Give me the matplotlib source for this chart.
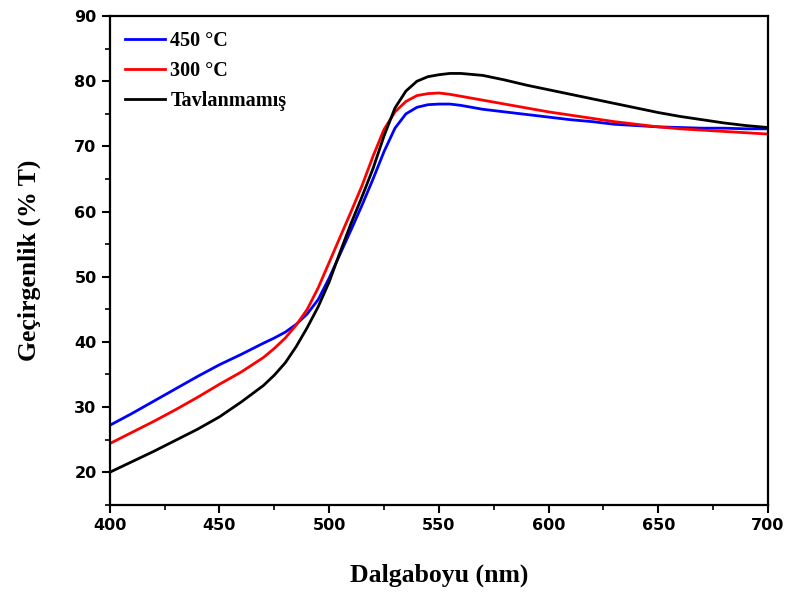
import matplotlib
matplotlib.use('Agg')
import matplotlib.pyplot as plt
from matplotlib.ticker import MultipleLocator

wavelength = [400, 410, 420, 430, 440, 450, 460, 470, 475, 480, 485, 490, 495,
              500, 505, 510, 515, 520, 525, 530, 535, 540, 545, 550, 555, 560,
              570, 580, 590, 600, 610, 620, 630, 640, 650, 660, 670, 680, 690, 700]

t_450 = [27.2, 29.0, 30.9, 32.8, 34.7, 36.5, 38.1, 39.8, 40.6, 41.5, 42.7, 44.3, 46.5,
         49.8, 53.5, 57.2, 61.0, 65.0, 69.2, 72.8, 75.0, 76.0, 76.4, 76.5, 76.5, 76.3,
         75.7, 75.3, 74.9, 74.5, 74.1, 73.8, 73.4, 73.2, 73.0, 72.9, 72.8, 72.8, 72.7, 72.7]

t_300 = [24.4, 26.1, 27.8, 29.6, 31.5, 33.5, 35.4, 37.6, 39.0, 40.6, 42.6, 45.0, 48.3,
         52.2, 56.1, 60.0, 64.0, 68.5, 72.6, 75.3, 76.9, 77.8, 78.1, 78.2, 78.0, 77.7,
         77.1, 76.5, 75.9, 75.3, 74.8, 74.3, 73.8, 73.4, 73.0, 72.7, 72.5, 72.3, 72.1, 71.9]

t_raw = [20.0, 21.6, 23.2, 24.9, 26.6, 28.5, 30.8, 33.3, 34.9, 36.8, 39.3, 42.2, 45.4,
         49.2, 53.8, 58.2, 62.3, 66.6, 71.6, 75.9, 78.5, 80.0, 80.7, 81.0, 81.2, 81.2,
         80.9, 80.2, 79.4, 78.7, 78.0, 77.3, 76.6, 75.9, 75.2, 74.6, 74.1, 73.6, 73.2, 72.9]

labels = ['450 °C', '300 °C', 'Tavlanmamış']

fig = plt.figure(figsize=(7.9, 5.96), dpi=100)
ax = fig.add_axes([0.139, 0.153, 0.833, 0.820])

ax.plot(wavelength, t_450, color='#0000ff', lw=2, label=labels[0])
ax.plot(wavelength, t_300, color='#ff0000', lw=2, label=labels[1])
ax.plot(wavelength, t_raw, color='black', lw=2, label=labels[2])

ax.set_xlim(400, 700)
ax.set_ylim(15, 90)
ax.xaxis.set_major_locator(MultipleLocator(50))
ax.xaxis.set_minor_locator(MultipleLocator(25))
ax.yaxis.set_minor_locator(MultipleLocator(5))
ax.set_yticks([20, 30, 40, 50, 60, 70, 80, 90])

ax.tick_params(which='major', direction='out', length=6, width=1.5)
ax.tick_params(which='minor', direction='out', length=3.5, width=1.2)
ax.tick_params(top=False, right=False, which='both')
for lbl in ax.get_xticklabels() + ax.get_yticklabels():
    lbl.set_fontfamily('DejaVu Sans')
    lbl.set_fontweight('bold')
    lbl.set_fontsize(11.5)
for s in ax.spines.values():
    s.set_linewidth(1.6)

ax.set_xlabel('Dalgaboyu (nm)', fontfamily='Liberation Serif', fontweight='bold',
              fontsize=18.5, labelpad=22)
ax.set_ylabel('Geçirgenlik (% T)', fontfamily='Liberation Serif', fontweight='bold',
              fontsize=18.5, labelpad=24)

ax.legend(loc='upper left', frameon=False, handlelength=2.0, handletextpad=0.25,
          labelspacing=0.5, borderaxespad=0.35,
          prop={'family': 'Liberation Serif', 'weight': 'bold', 'size': 14.5})

fig.savefig('out.png', dpi=100)
